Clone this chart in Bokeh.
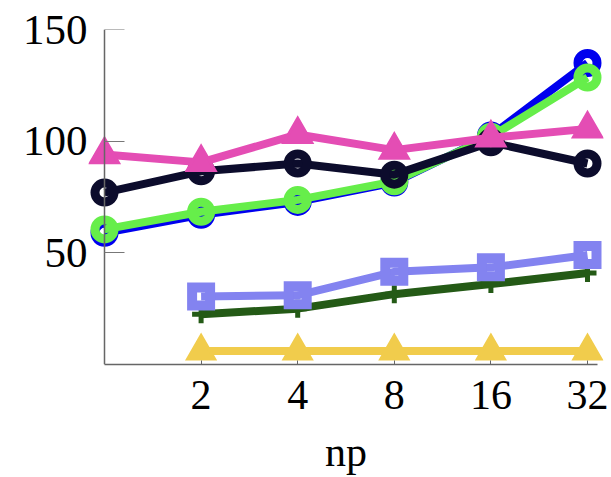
from bokeh.plotting import figure
from bokeh.models import Range1d, FixedTicker, BasicTickFormatter, LinearAxis
from bokeh.embed import file_html
from bokeh.resources import INLINE

# ---- data ----
np_all = [1, 2, 4, 8, 16, 32]
np_sub = [2, 4, 8, 16, 32]
pink_tri = [94, 90.5, 103, 96, 101.5, 105.5]
black_circ = [77, 86.5, 90, 85, 99.5, 90]
blue_circ = [59, 67, 72.8, 81.5, 102.5, 135]
green_circ = [60.5, 68.4, 73.7, 82, 102, 128.5]
lavender_sq = [30.5, 31, 41.5, 43.5, 49]
darkgreen_plus = [22.5, 25, 31.5, 36, 41]
yellow_tri = [6, 6, 6, 6, 6]
x_ticks = [2, 4, 8, 16, 32]
y_ticks = [50, 100, 150]

FONT = "Liberation Serif"

p = figure(
    x_axis_type="log",
    x_range=Range1d(2 ** (-16 / 96.6), 2 ** (5 + 16 / 96.6)),
    y_range=Range1d(0, 150),
    frame_width=515, frame_height=335,
    min_border_left=88, min_border_right=8, min_border_top=29, min_border_bottom=0,
    output_backend="svg", toolbar_location=None,
)
p.outline_line_color = None
p.xgrid.visible = False
p.ygrid.visible = False

def series(x, y, color, marker, size, lw_marker, filled=False):
    p.line(x, y, line_color=color, line_width=8)
    p.scatter(x, y, marker=marker, size=size, line_color=color, line_width=lw_marker,
              line_join="miter", fill_color=color if filled else None)

series(np_sub, yellow_tri, "#f1cc4c", "triangle", 27, 3, filled=True)
series(np_sub, darkgreen_plus, "#245a16", "cross", 18, 5)
series(np_sub, lavender_sq, "#8383f0", "square", 18, 10)
series(np_all, blue_circ, "#0000ee", "circle", 19, 9)
series(np_all, green_circ, "#66ee4a", "circle", 19, 9)
series(np_all, black_circ, "#0c0c2c", "circle", 19, 9)
series(np_all, pink_tri, "#e44db4", "triangle", 28, 3, filled=True)

# x axis
xa = p.xaxis[0]
xa.ticker = FixedTicker(ticks=x_ticks)
xa.formatter = BasicTickFormatter()
xa.minor_tick_line_color = None
xa.major_tick_in = 4
xa.major_tick_out = 0
xa.major_tick_line_color = "#666666"
xa.axis_line_color = "#666666"
xa.axis_line_width = 1.5
xa.bounds = (1, 34.5)
xa.major_label_text_font = FONT
xa.major_label_text_font_size = "42px"
xa.major_label_text_color = "black"
xa.major_label_standoff = 16
xa.axis_label = "np"
xa.axis_label_text_font = FONT
xa.axis_label_text_font_style = "normal"
xa.axis_label_text_font_size = "42px"
xa.axis_label_text_color = "black"
xa.axis_label_standoff = 17

# y axis: labels only, at the frame's left edge
ya = p.yaxis[0]
ya.ticker = FixedTicker(ticks=y_ticks)
ya.minor_tick_line_color = None
ya.major_tick_line_color = None
ya.major_tick_in = 0
ya.major_tick_out = 0
ya.axis_line_color = None
ya.major_label_text_font = FONT
ya.major_label_text_font_size = "43px"
ya.major_label_text_color = "black"
ya.major_label_standoff = 1

# y axis line and inward ticks drawn at np = 1 (no labels of its own)
yl = LinearAxis(ticker=FixedTicker(ticks=y_ticks), fixed_location=1, bounds=(0, 150))
yl.minor_tick_line_color = None
yl.major_tick_in = 20
yl.major_tick_out = 0
yl.major_tick_line_color = "#777777"
yl.axis_line_color = "#666666"
yl.axis_line_width = 1.5
yl.major_label_text_color = None
yl.major_label_text_font_size = "8px"
yl.major_label_standoff = 0
p.add_layout(yl, "left")

open("out.html", "w").write(file_html(p, INLINE))
